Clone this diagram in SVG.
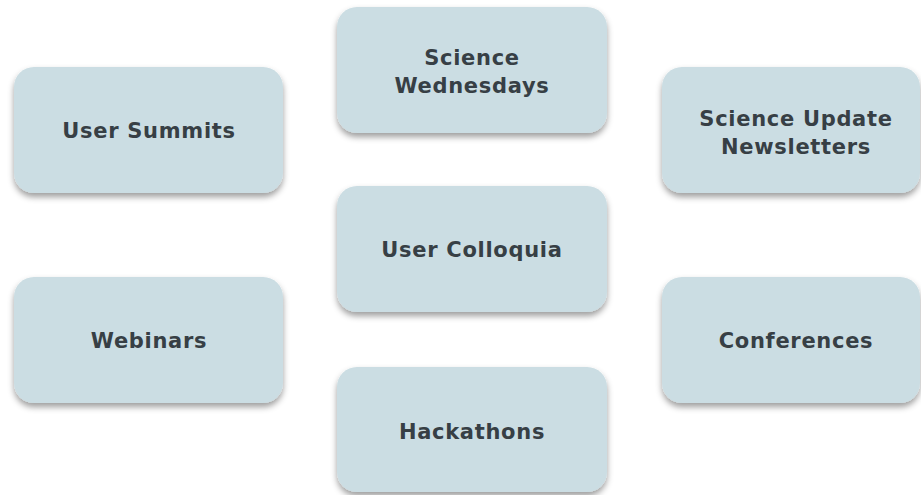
<svg xmlns="http://www.w3.org/2000/svg" width="921" height="495" viewBox="0 0 921 495">
  <defs>
    <filter id="sh" x="-10%" y="-10%" width="120%" height="130%">
      <feDropShadow dx="0" dy="4" stdDeviation="3" flood-color="#000000" flood-opacity="0.38"/>
    </filter>
    <style>
      .box { fill: #cbdde3; filter: url(#sh); }
      .lbl { font-family: "DejaVu Sans", "Liberation Sans", sans-serif; font-weight: 700; font-size: 21px; letter-spacing: 0.7px; fill: #373f45; text-anchor: middle; }
    </style>
  </defs>
  <rect width="921" height="495" fill="#ffffff"/>
  <g id="connectors"></g>
  <g id="science-wednesdays">
    <rect class="box" x="337" y="7" width="270" height="126" rx="20"/>
    <text class="lbl" x="472" y="65">Science</text>
    <text class="lbl" x="472" y="92.5">Wednesdays</text>
  </g>
  <g id="user-summits">
    <rect class="box" x="14" y="67" width="269" height="126" rx="20"/>
    <text class="lbl" x="149" y="137.5">User Summits</text>
  </g>
  <g id="science-update-newsletters">
    <rect class="box" x="662" y="67" width="258" height="126" rx="20"/>
    <text class="lbl" x="796" y="126">Science Update</text>
    <text class="lbl" x="796" y="153.5">Newsletters</text>
  </g>
  <g id="user-colloquia">
    <rect class="box" x="337" y="186" width="270" height="126" rx="20"/>
    <text class="lbl" x="472" y="256.5">User Colloquia</text>
  </g>
  <g id="webinars">
    <rect class="box" x="14" y="277" width="269" height="126" rx="20"/>
    <text class="lbl" x="149" y="347.5">Webinars</text>
  </g>
  <g id="conferences">
    <rect class="box" x="662" y="277" width="258" height="126" rx="20"/>
    <text class="lbl" x="796" y="347.5">Conferences</text>
  </g>
  <g id="hackathons">
    <rect class="box" x="337" y="367" width="270" height="125" rx="20"/>
    <text class="lbl" x="472" y="439">Hackathons</text>
  </g>
</svg>
